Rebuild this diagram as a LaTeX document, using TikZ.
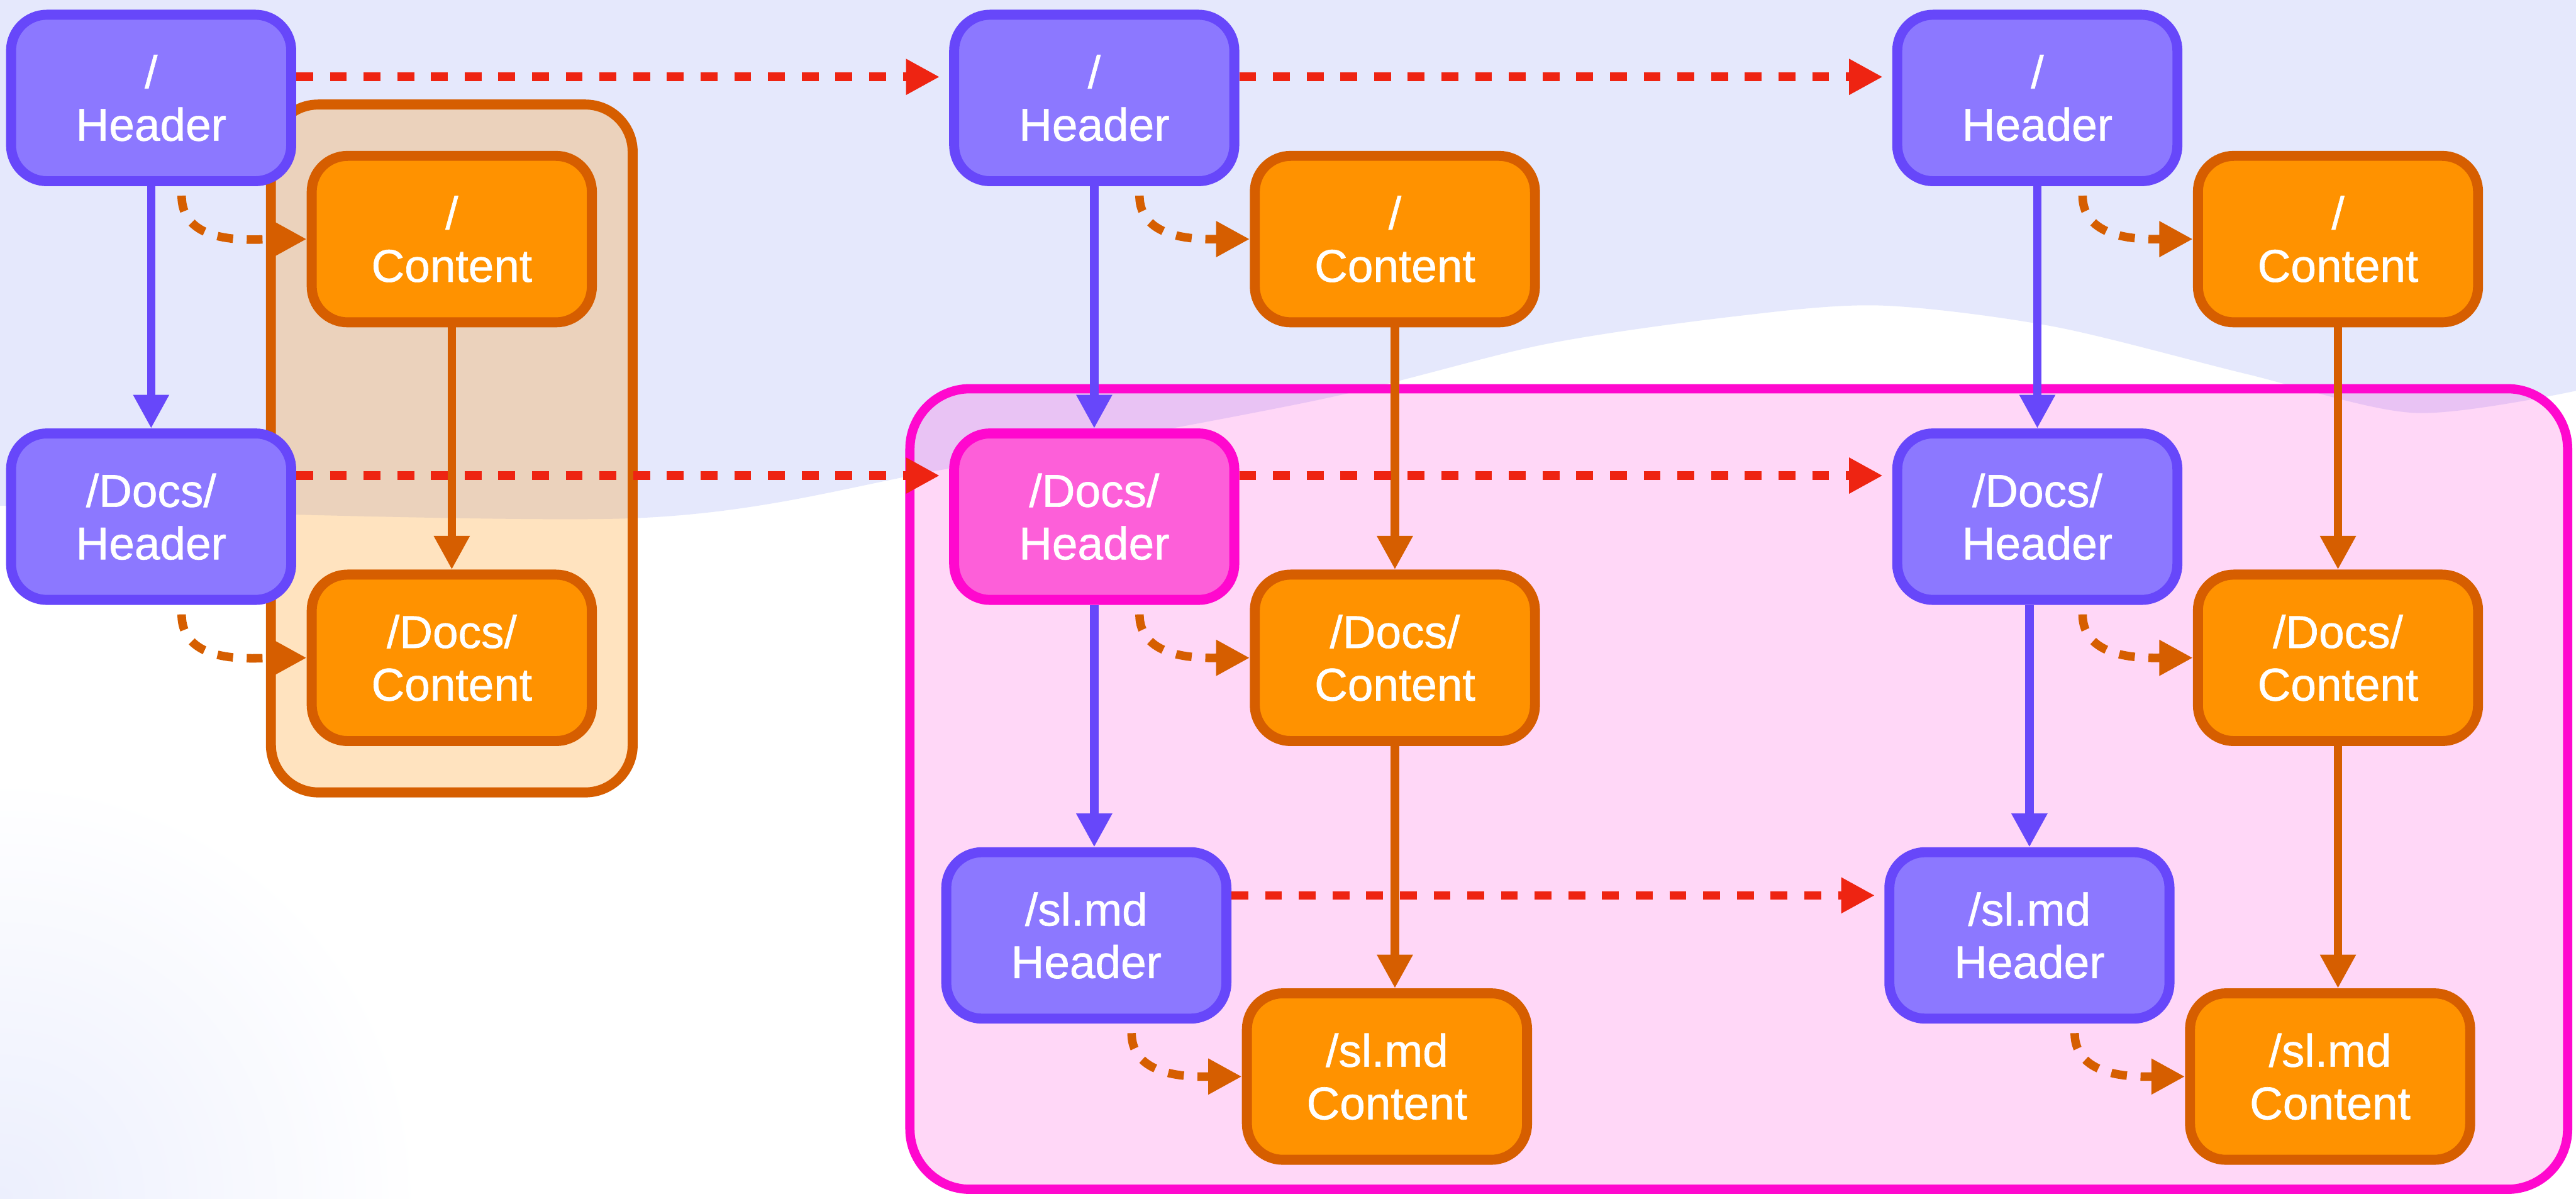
\documentclass[tikz,border=0pt]{standalone}
\usepackage{fontspec}
\setmainfont{Liberation Sans}
\newfontfamily\boxfont{Liberation Sans}[FakeBold=0.9]
\usetikzlibrary{positioning,arrows.meta,fit,backgrounds}

\definecolor{hdrfill}{RGB}{140,120,255}
\definecolor{hdrline}{RGB}{103,71,250}
\definecolor{cntfill}{RGB}{255,146,0}
\definecolor{cntline}{RGB}{214,94,0}
\definecolor{selfill}{RGB}{253,95,217}
\definecolor{selline}{RGB}{255,8,206}
\definecolor{linkred}{RGB}{238,36,18}
\definecolor{skybg}{RGB}{229,232,252}
\definecolor{skytint}{RGB}{236,239,253}

\tikzset{
  box/.style={
    draw, line width=2.7pt, rounded corners=3.4mm, align=center,
    minimum width=2.66cm, minimum height=1.58cm, inner sep=0pt,
    text=white, font=\boxfont\fontsize{12.4}{14.2}\selectfont,
  },
  hdr/.style={box, fill=hdrfill, draw=hdrline},
  hdrsel/.style={box, fill=selfill, draw=selline},
  cnt/.style={box, fill=cntfill, draw=cntline},
  flow/.style={-{Triangle[length=3.2mm, width=3.2mm]}, line width=2.3pt},
  hdrflow/.style={flow, hdrline},
  cntflow/.style={flow, cntline},
  sibling/.style={flow, linkred, dash pattern=on 1.6mm off 1.6mm, shorten >=0.9mm},
  owns/.style={flow, cntline, dash pattern=on 1.5mm off 1.3mm},
  cgroup/.style={draw=cntline, line width=2.7pt, rounded corners=4.5mm,
    fill=cntfill, fill opacity=0.25},
  pgroup/.style={draw=selline, line width=2.5pt, rounded corners=5.7mm,
    fill=selline, fill opacity=0.16},
}

\begin{document}
\begin{tikzpicture}[node distance=2.3cm and 6.2cm]
\useasboundingbox (0,0) rectangle (24.46,-11.38);

% first column
\node[hdr] (hroot1) at (1.435,-0.93) {/\\Header};
\node[cnt, below right=-0.335cm and 0.1cm of hroot1] (croot1) {/\\Content};
\node[hdr, below=of hroot1] (hdocs1) {/Docs/\\Header};
\node[cnt, below right=-0.335cm and 0.1cm of hdocs1] (cdocs1) {/Docs/\\Content};

% second column
\node[hdr, right=of hroot1] (hroot2) {/\\Header};
\node[cnt, below right=-0.335cm and 0.1cm of hroot2] (croot2) {/\\Content};
\node[hdrsel, below=of hroot2] (hdocs2) {/Docs/\\Header};
\node[cnt, below right=-0.335cm and 0.1cm of hdocs2] (cdocs2) {/Docs/\\Content};
\node[hdr, below=of hdocs2, xshift=-0.075cm] (hmd2) {/sl.md\\Header};
\node[cnt, below right=-0.335cm and 0.1cm of hmd2] (cmd2) {/sl.md\\Content};

% third column
\node[hdr, right=of hroot2] (hroot3) {/\\Header};
\node[cnt, below right=-0.335cm and 0.1cm of hroot3] (croot3) {/\\Content};
\node[hdr, below=of hroot3] (hdocs3) {/Docs/\\Header};
\node[cnt, below right=-0.335cm and 0.1cm of hdocs3] (cdocs3) {/Docs/\\Content};
\node[hdr, below=of hdocs3, xshift=-0.075cm] (hmd3) {/sl.md\\Header};
\node[cnt, below right=-0.335cm and 0.1cm of hmd3] (cmd3) {/sl.md\\Content};

% header chains
\draw[hdrflow] (hroot1) -- (hdocs1);
\draw[hdrflow] (hroot2) -- (hdocs2);
\draw[hdrflow] (hdocs2.south) -- (hdocs2.south |- hmd2.north);
\draw[hdrflow] (hroot3) -- (hdocs3);
\draw[hdrflow] (hmd3.north |- hdocs3.south) -- (hmd3.north);

% content chains
\draw[cntflow] (croot1) -- (cdocs1);
\draw[cntflow] (croot2) -- (cdocs2);
\draw[cntflow] (cdocs2.south) -- (cdocs2.south |- cmd2.north);
\draw[cntflow] (croot3) -- (cdocs3);
\draw[cntflow] (cdocs3.south) -- (cdocs3.south |- cmd3.north);

% header -> content
\draw[owns] ([xshift=2.9mm, yshift=-0.9mm]hroot1.south) to[out=-90, in=180] (croot1.west);
\draw[owns] ([xshift=2.9mm, yshift=-0.9mm]hdocs1.south) to[out=-90, in=180] (cdocs1.west);
\draw[owns] ([xshift=4.3mm, yshift=-0.9mm]hroot2.south) to[out=-90, in=180] (croot2.west);
\draw[owns] ([xshift=4.3mm, yshift=-0.9mm]hdocs2.south) to[out=-90, in=180] (cdocs2.west);
\draw[owns] ([xshift=4.3mm, yshift=-0.9mm]hmd2.south) to[out=-90, in=180] (cmd2.west);
\draw[owns] ([xshift=4.3mm, yshift=-0.9mm]hroot3.south) to[out=-90, in=180] (croot3.west);
\draw[owns] ([xshift=4.3mm, yshift=-0.9mm]hdocs3.south) to[out=-90, in=180] (cdocs3.west);
\draw[owns] ([xshift=4.3mm, yshift=-0.9mm]hmd3.south) to[out=-90, in=180] (cmd3.west);

% across versions
\draw[sibling] ([yshift=2mm]hroot1.east) -- ([yshift=2mm]hroot2.west);
\draw[sibling] ([yshift=2mm]hroot2.east) -- ([yshift=2mm]hroot3.west);
\draw[sibling] ([yshift=3.9mm]hdocs1.east) -- ([yshift=3.9mm]hdocs2.west);
\draw[sibling] ([yshift=3.9mm]hdocs2.east) -- ([yshift=3.9mm]hdocs3.west);
\draw[sibling] ([yshift=3.8mm]hmd2.east) -- ([yshift=3.8mm]hmd3.west);

\begin{scope}[on background layer]
  \begin{scope}
    \clip (0,0) rectangle (24.46,-11.38);
    \fill[white] (0,0) rectangle (24.46,-11.38);
    \shade[inner color=skytint, outer color=white] (0,-11.38) circle (4cm);
    \fill[skybg] (0,0) -- (24.46,0) -- plot[smooth] coordinates {
      (24.46,-3.71) (22.93,-3.92) (21.33,-3.55) (19.5,-3.1) (17.86,-2.9)
      (16.5,-3.0) (14.66,-3.27) (12.5,-3.8) (9,-4.45) (6,-4.92) (0,-4.8)} -- cycle;
  \end{scope}
  \node[cgroup, fit=(croot1)(cdocs1), inner xsep=3.4mm, inner ysep=4.4mm] (docsgroup) {};
  \draw[pgroup] (8.64,-3.69) rectangle (24.38,-11.29);
\end{scope}

\end{tikzpicture}
\end{document}
